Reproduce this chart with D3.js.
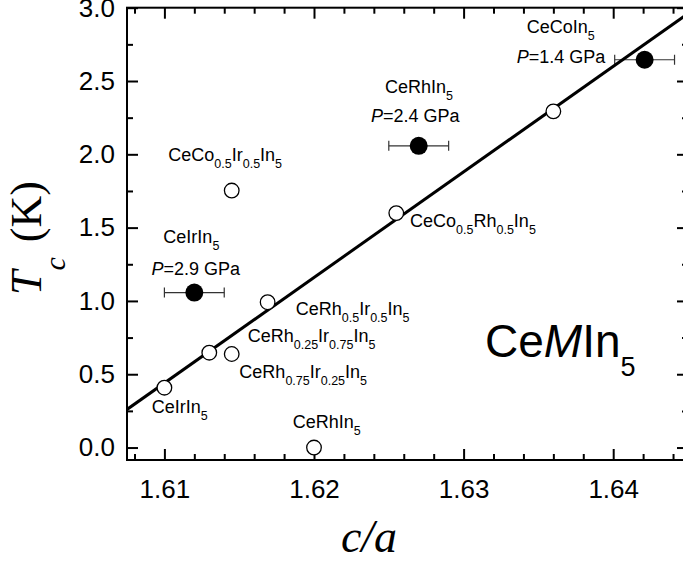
<!DOCTYPE html>
<html><head><meta charset="utf-8">
<script src="https://cdn.jsdelivr.net/npm/d3@7/dist/d3.min.js"></script>
<style>
body{margin:0;background:#fff;}
svg{display:block;}
</style></head>
<body>
<svg id="chart" width="683" height="561"></svg>
<script>
// ---- data ----
const ambientCA = [1.6100, 1.6130, 1.6145, 1.6169, 1.6145, 1.6200, 1.6255, 1.6360];
const ambientTc = [0.408, 0.647, 0.638, 0.991, 1.753, 0.0, 1.599, 2.293];
const pressureCA = [1.6120, 1.6270, 1.6421];
const pressureTc = [1.057, 2.058, 2.645];
const pressureErr = [0.002, 0.002, 0.002];
const fitCA = [1.6075, 1.645];
const fitTc = [0.26, 2.96];
const xMajorTicks = [1.61, 1.62, 1.63, 1.64];
const yMajorTicks = [0.0, 0.5, 1.0, 1.5, 2.0, 2.5, 3.0];
// labels: [anchor c/a, anchor Tc, parts]  parts: [text, kind] kind: n normal, s subscript, i italic
const labels = [
  [1.63422, 2.829, [["CeCoIn","n"],["5","s"]]],
  [1.63355, 2.625, [["P","i"],["=1.4 GPa","n"]]],
  [1.62475, 2.418, [["CeRhIn","n"],["5","s"]]],
  [1.62381, 2.217, [["P","i"],["=2.4 GPa","n"]]],
  [1.61026, 1.956, [["CeCo","n"],["0.5","s"],["Ir","n"],["0.5","s"],["In","n"],["5","s"]]],
  [1.60993, 1.394, [["CeIrIn","n"],["5","s"]]],
  [1.60913, 1.177, [["P","i"],["=2.9 GPa","n"]]],
  [1.62642, 1.507, [["CeCo","n"],["0.5","s"],["Rh","n"],["0.5","s"],["In","n"],["5","s"]]],
  [1.61878, 0.904, [["CeRh","n"],["0.5","s"],["Ir","n"],["0.5","s"],["In","n"],["5","s"]]],
  [1.61557, 0.722, [["CeRh","n"],["0.25","s"],["Ir","n"],["0.75","s"],["In","n"],["5","s"]]],
  [1.61501, 0.472, [["CeRh","n"],["0.75","s"],["Ir","n"],["0.25","s"],["In","n"],["5","s"]]],
  [1.60915, 0.238, [["CeIrIn","n"],["5","s"]]],
  [1.61858, 0.131, [["CeRhIn","n"],["5","s"]]]
];

// ---- layout ----
const L = 127, R = 688, T = 7.7, B = 460;
const x = d3.scaleLinear().domain([1.6075, 1.645]).range([L, R]);
const y = d3.scaleLinear().domain([-0.085, 3.0]).range([B, T]);
const svg = d3.select("#chart");
const sans = "'Liberation Sans', Arial, Helvetica, sans-serif";
const serif = "'Liberation Serif', 'Times New Roman', serif";

const xMinor = d3.range(1.608, 1.6451, 0.002).filter(v => !xMajorTicks.some(m => Math.abs(m - v) < 1e-6));
const yMinor = d3.range(0.25, 3.0, 0.5);

function styleAxis(g) {
  g.select(".domain").remove();
  g.selectAll(".tick line").attr("stroke", "#000").attr("stroke-width", 2);
  g.selectAll(".tick text").attr("font-family", sans).attr("font-size", 26).attr("fill", "#000");
}
// bottom
svg.append("g").attr("transform", `translate(0,${B})`)
  .call(d3.axisBottom(x).tickValues(xMajorTicks).tickSize(-11).tickSizeOuter(0).tickPadding(20).tickFormat(d3.format(".2f"))).call(styleAxis);
svg.append("g").attr("transform", `translate(0,${B})`)
  .call(d3.axisBottom(x).tickValues(xMinor).tickSize(-6).tickSizeOuter(0).tickFormat("")).call(styleAxis);
// top
svg.append("g").attr("transform", `translate(0,${T})`)
  .call(d3.axisTop(x).tickValues(xMajorTicks).tickSize(-11).tickSizeOuter(0).tickFormat("")).call(styleAxis);
svg.append("g").attr("transform", `translate(0,${T})`)
  .call(d3.axisTop(x).tickValues(xMinor).tickSize(-6).tickSizeOuter(0).tickFormat("")).call(styleAxis);
// left
svg.append("g").attr("transform", `translate(${L},0)`)
  .call(d3.axisLeft(y).tickValues(yMajorTicks).tickSize(-11).tickSizeOuter(0).tickPadding(12).tickFormat(d3.format(".1f"))).call(styleAxis);
svg.append("g").attr("transform", `translate(${L},0)`)
  .call(d3.axisLeft(y).tickValues(yMinor).tickSize(-6).tickSizeOuter(0).tickFormat("")).call(styleAxis);
// right
svg.append("g").attr("transform", `translate(${R},0)`)
  .call(d3.axisRight(y).tickValues(yMajorTicks).tickSize(-11).tickSizeOuter(0).tickFormat("")).call(styleAxis);
svg.append("g").attr("transform", `translate(${R},0)`)
  .call(d3.axisRight(y).tickValues(yMinor).tickSize(-6).tickSizeOuter(0).tickFormat("")).call(styleAxis);

// frame
svg.append("rect").attr("x", L).attr("y", T).attr("width", R - L).attr("height", B - T)
  .attr("fill", "none").attr("stroke", "#000").attr("stroke-width", 2);

svg.append("clipPath").attr("id", "clip").append("rect")
  .attr("x", L).attr("y", T).attr("width", R - L).attr("height", B - T);
const plot = svg.append("g").attr("clip-path", "url(#clip)");

// error bars
const pts = pressureCA.map((c, i) => ({c, t: pressureTc[i], e: pressureErr[i]}));
const eb = plot.append("g").attr("stroke", "#333").attr("stroke-width", 1.2);
pts.forEach(p => {
  eb.append("line").attr("x1", x(p.c - p.e)).attr("x2", x(p.c + p.e)).attr("y1", y(p.t)).attr("y2", y(p.t));
  [p.c - p.e, p.c + p.e].forEach(v => eb.append("line").attr("x1", x(v)).attr("x2", x(v)).attr("y1", y(p.t) - 5).attr("y2", y(p.t) + 5));
});

// fit line
plot.append("path").datum(fitCA.map((c, i) => [c, fitTc[i]]))
  .attr("d", d3.line().x(d => x(d[0])).y(d => y(d[1])))
  .attr("stroke", "#000").attr("stroke-width", 3).attr("fill", "none");

// ambient points
plot.selectAll("circle.amb").data(ambientCA.map((c, i) => [c, ambientTc[i]])).enter()
  .append("circle").attr("class", "amb").attr("cx", d => x(d[0])).attr("cy", d => y(d[1])).attr("r", 7.3)
  .attr("fill", "#fff").attr("stroke", "#000").attr("stroke-width", 1.3);
// pressure points
plot.selectAll("circle.pr").data(pts).enter()
  .append("circle").attr("class", "pr").attr("cx", d => x(d.c)).attr("cy", d => y(d.t)).attr("r", 9)
  .attr("fill", "#000");

// labels
labels.forEach(([c, t, parts]) => {
  const tx = svg.append("text").attr("x", x(c)).attr("y", y(t))
    .attr("font-family", sans).attr("font-size", 18).attr("fill", "#000");
  let sub = false;
  parts.forEach(([s, k]) => {
    const sp = tx.append("tspan").text(s);
    if (k === "s") { sp.attr("font-size", 12.5).attr("dy", sub ? 0 : 7); sub = true; }
    else { if (sub) sp.attr("dy", -7); sub = false; if (k === "i") sp.attr("font-style", "italic"); }
  });
});

// CeMIn5
const big = svg.append("text").attr("x", x(1.63143)).attr("y", y(0.616))
  .attr("font-family", sans).attr("font-size", 46).attr("fill", "#000");
big.append("tspan").text("Ce");
big.append("tspan").text("M").attr("font-style", "italic");
big.append("tspan").text("In");
big.append("tspan").text("5").attr("font-size", 27).attr("dy", 19);

// axis titles
svg.append("text").attr("x", (L + 613) / 2 - 1).attr("y", 552)
  .attr("text-anchor", "middle").attr("font-family", serif).attr("font-style", "italic")
  .attr("font-size", 46).attr("fill", "#000").text("c/a");

const yt = svg.append("text").attr("transform", "translate(41,238) rotate(-90)")
  .attr("text-anchor", "middle").attr("font-family", serif).attr("font-size", 44).attr("fill", "#000");
yt.append("tspan").text("T").attr("font-style", "italic");
yt.append("tspan").text("c").attr("font-style", "italic").attr("font-size", 30).attr("dy", 24);
yt.append("tspan").text(" (K)").attr("dy", -24).attr("dx", 4);
</script>
</body></html>
